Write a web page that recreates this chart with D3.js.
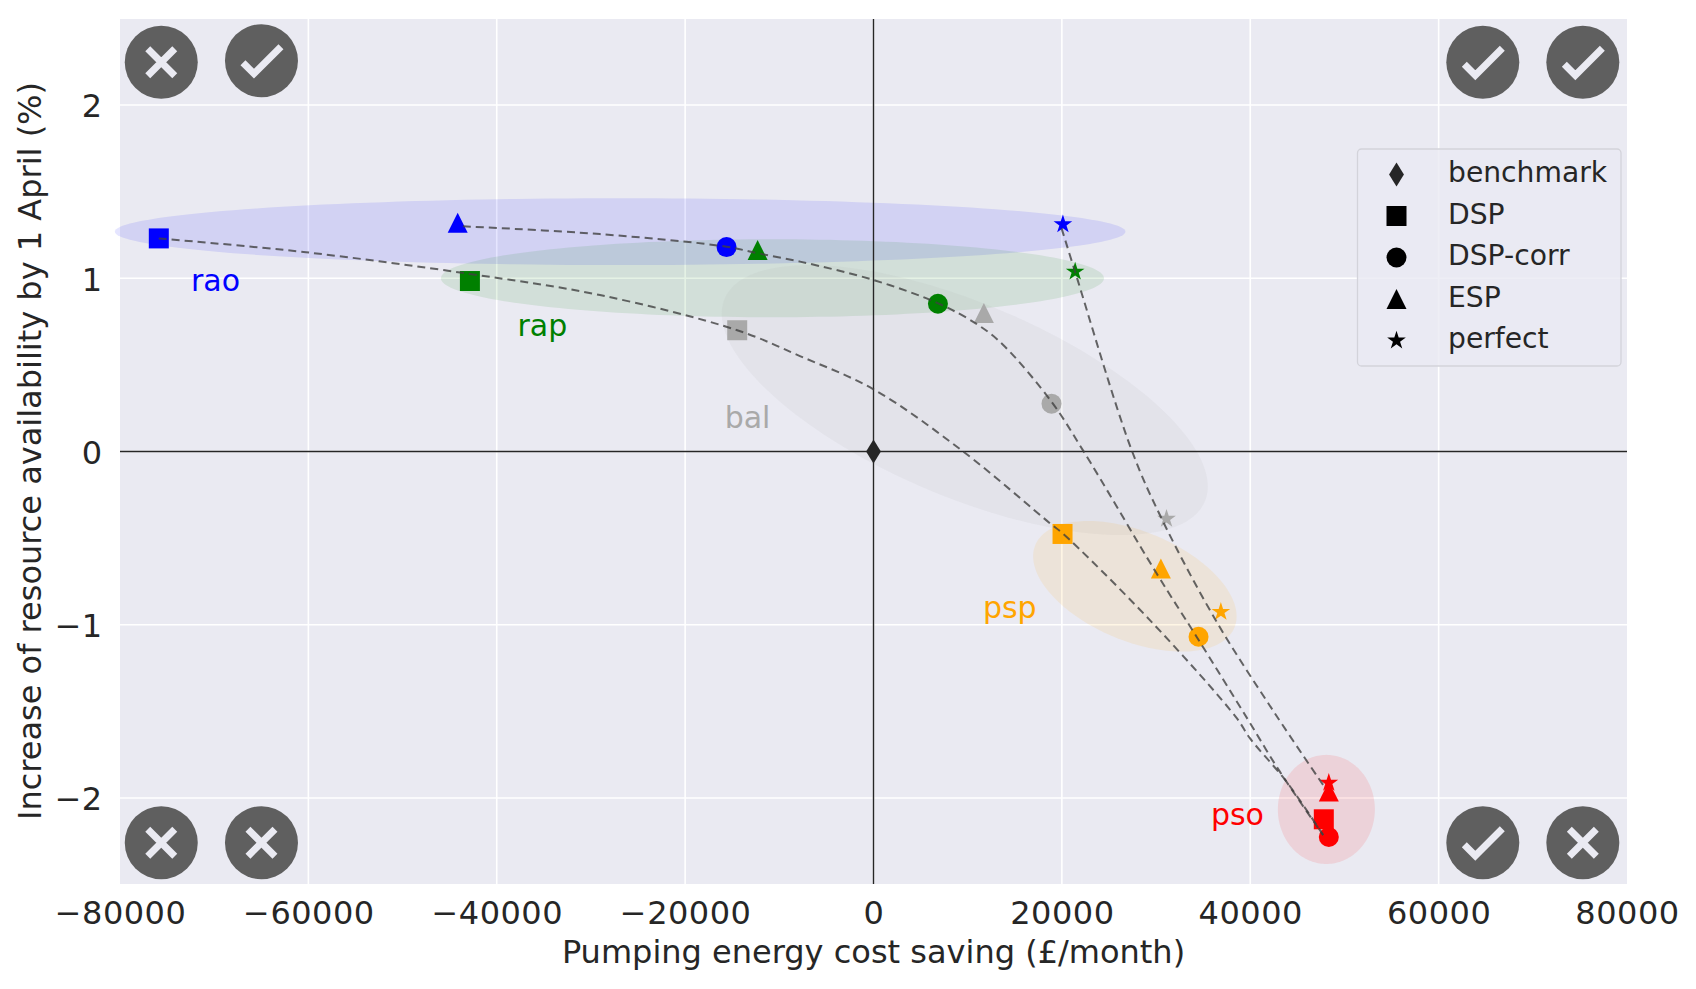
<!DOCTYPE html>
<html>
<head>
<meta charset="utf-8">
<script src="https://cdn.jsdelivr.net/npm/d3@7"></script>
<style>
  html, body { margin: 0; padding: 0; background: #fff; }
  text { font-family: 'DejaVu Sans', sans-serif; fill: #262626; }
</style>
</head>
<body>
<svg id="chart" width="1696" height="989"></svg>
<script>
const regimes = ['rao', 'rap', 'bal', 'psp', 'pso'];
const regimeColors = ['blue', 'green', 'darkgrey', 'orange', 'red'];
const regimeLabelX = [-72460, -37800, -15800, 11620, 35820];
const regimeLabelY = [0.928, 0.665, 0.134, -0.961, -2.156];

const methods = ['benchmark', 'DSP', 'DSP-corr', 'ESP', 'perfect'];

const benchmarkX = [0];
const benchmarkY = [0];
const dspX = [-75880, -42850, -14470, 20070, 47810];
const dspY = [1.23, 0.984, 0.7, -0.476, -2.123];
const corrX = [-15600, 6840, 18900, 34510, 48340];
const corrY = [1.18, 0.853, 0.276, -1.069, -2.225];
const espX = [-44150, -12300, 11720, 30510, 48340];
const espY = [1.32, 1.163, 0.8, -0.676, -1.963];
const perfectX = [20110, 21410, 31110, 36880, 48340];
const perfectY = [1.311, 1.038, -0.388, -0.926, -1.912];

// dashed fronts
const frontLow = [
  [-75880, 1.23], [-60250, 1.15], [-42860, 1.025], [-29040, 0.903], [-14470, 0.7],
  [-7810, 0.551], [0, 0.359], [9520, 0], [18730, -0.414], [20070, -0.472],
  [29340, -0.973], [38550, -1.538], [39960, -1.655], [43850, -1.906], [47740, -2.214],
];
const frontMid = [
  [-43590, 1.3], [-29040, 1.255], [-15600, 1.182], [-12300, 1.144], [-7800, 1.096],
  [0, 0.99], [6870, 0.855], [11120, 0.73], [13770, 0.615], [18900, 0.287],
  [22260, 0.005], [30050, -0.703], [34300, -1.069], [39780, -1.55], [43140, -1.848],
  [47740, -2.214],
];
const frontHigh = [
  [19970, 1.288], [21450, 1.029], [27400, 0.009], [30750, -0.405],
  [36420, -0.982], [42610, -1.511], [47740, -1.925],
];

// spread of each regime: centre, half extents, correlation
const spreadCx = [-26900, -10730, 9690, 27750, 48080];
const spreadCy = [1.269, 1.0, 0.297, -0.778, -2.066];
const spreadEx = [53650, 35200, 25800, 10800, 5150];
const spreadEy = [0.193, 0.225, 0.779, 0.377, 0.315];
const spreadRho = [0, 0, -0.64, -0.46, 0];

const xTicks = [-80000, -60000, -40000, -20000, 0, 20000, 40000, 60000, 80000];
const yTicks = [-2, -1, 0, 1, 2];

const badgeX = [-75620, -64980, 64690, 75310, -75620, -64980, 64690, 75310];
const badgeY = [2.2465, 2.256, 2.2465, 2.2465, -2.258, -2.258, -2.258, -2.258];
const badgeOk = [false, true, true, true, false, false, true, false];

const width = 1696;
const height = 989;
const margin = { top: 19, right: 69, bottom: 105, left: 120 };

const x = d3.scaleLinear().domain([-80000, 80000]).range([margin.left, width - margin.right]);
const y = d3.scaleLinear().domain([-2.4965, 2.4965]).range([height - margin.bottom, margin.top]);

const svg = d3.select('#chart');

svg.append('rect')
  .attr('x', margin.left)
  .attr('y', margin.top)
  .attr('width', width - margin.left - margin.right)
  .attr('height', height - margin.top - margin.bottom)
  .attr('fill', '#eaeaf2');

// grid
svg.append('g').selectAll('line').data(xTicks.slice(1, -1)).join('line')
  .attr('x1', d => x(d)).attr('x2', d => x(d))
  .attr('y1', margin.top).attr('y2', height - margin.bottom)
  .attr('stroke', '#fff').attr('stroke-width', 1.6);
svg.append('g').selectAll('line').data(yTicks).join('line')
  .attr('x1', margin.left).attr('x2', width - margin.right)
  .attr('y1', d => y(d)).attr('y2', d => y(d))
  .attr('stroke', '#fff').attr('stroke-width', 1.6);

// ellipses as parametric lines so the tilt stays in data space
const spreadLine = d3.line().x(d => x(d[0])).y(d => y(d[1])).curve(d3.curveLinearClosed);
const angles = d3.range(0, 2 * Math.PI, Math.PI / 90);
svg.append('g').selectAll('path').data(regimes).join('path')
  .attr('d', (d, i) => {
    const delta = Math.acos(spreadRho[i]);
    return spreadLine(angles.map(t => [
      spreadCx[i] + spreadEx[i] * Math.cos(t),
      spreadCy[i] + spreadEy[i] * Math.cos(t - delta),
    ]));
  })
  .attr('fill', (d, i) => regimeColors[i])
  .attr('fill-opacity', 0.1);

// zero lines
svg.append('line')
  .attr('x1', x(0)).attr('x2', x(0))
  .attr('y1', margin.top).attr('y2', height - margin.bottom)
  .attr('stroke', '#262626').attr('stroke-width', 1.4);
svg.append('line')
  .attr('x1', margin.left).attr('x2', width - margin.right)
  .attr('y1', y(0)).attr('y2', y(0))
  .attr('stroke', '#262626').attr('stroke-width', 1.4);

// marker shapes
const boxTriangle = {
  draw(ctx, size) {
    const r = Math.sqrt(size) / 2;
    ctx.moveTo(0, -r);
    ctx.lineTo(r, r);
    ctx.lineTo(-r, r);
    ctx.closePath();
  },
};
const thinDiamond = {
  draw(ctx, size) {
    const r = Math.sqrt(size) / 2;
    ctx.moveTo(0, -r);
    ctx.lineTo(r * 0.62, 0);
    ctx.lineTo(0, r);
    ctx.lineTo(-r * 0.62, 0);
    ctx.closePath();
  },
};
const symbols = {
  benchmark: d3.symbol().type(thinDiamond).size(576)(),
  DSP: d3.symbol().type(d3.symbolSquare).size(400)(),
  'DSP-corr': d3.symbol().type(d3.symbolCircle).size(314)(),
  ESP: d3.symbol().type(boxTriangle).size(400)(),
  perfect: d3.symbol().type(d3.symbolStar).size(108)(),
};

const drawMarkers = (name, xs, ys) => {
  svg.append('g').selectAll('path').data(xs).join('path')
    .attr('d', symbols[name])
    .attr('transform', (d, i) => `translate(${x(d)},${y(ys[i])})`)
    .attr('fill', (d, i) => regimeColors[i]);
};
drawMarkers('DSP', dspX, dspY);
drawMarkers('DSP-corr', corrX, corrY);
drawMarkers('ESP', espX, espY);
drawMarkers('perfect', perfectX, perfectY);

svg.append('path')
  .attr('d', symbols.benchmark)
  .attr('transform', `translate(${x(benchmarkX[0])},${y(benchmarkY[0])})`)
  .attr('fill', '#262626');

// fronts go on top of the markers
const frontLine = d3.line().x(d => x(d[0])).y(d => y(d[1])).curve(d3.curveCatmullRom);
svg.append('g').selectAll('path').data([frontLow, frontMid, frontHigh]).join('path')
  .attr('d', frontLine)
  .attr('fill', 'none')
  .attr('stroke', '#404040')
  .attr('stroke-opacity', 0.8)
  .attr('stroke-width', 2)
  .attr('stroke-dasharray', '8 5');

// regime names
svg.append('g').selectAll('text').data(regimes).join('text')
  .attr('x', (d, i) => x(regimeLabelX[i]))
  .attr('y', (d, i) => y(regimeLabelY[i]))
  .style('fill', (d, i) => regimeColors[i])
  .attr('font-size', 30)
  .text(d => d);

// badges
const badges = svg.append('g').selectAll('g').data(badgeX).join('g')
  .attr('transform', (d, i) => `translate(${x(d)},${y(badgeY[i])})`);
badges.append('circle').attr('r', 36.5).attr('fill', '#5f5f5f');
badges.filter((d, i) => badgeOk[i]).append('path')
  .attr('d', 'M-18.5,2L-7.5,13L19.5,-14')
  .attr('fill', 'none').attr('stroke', '#eaeaf2').attr('stroke-width', 7);
badges.filter((d, i) => !badgeOk[i]).append('path')
  .attr('d', 'M-13.5,-13.5L13.5,13.5M-13.5,13.5L13.5,-13.5')
  .attr('fill', 'none').attr('stroke', '#eaeaf2').attr('stroke-width', 7);

// axes
const xAxis = svg.append('g')
  .attr('transform', `translate(0,${height - margin.bottom})`)
  .call(d3.axisBottom(x).tickValues(xTicks).tickFormat(d3.format('d')).tickSize(0).tickPadding(17.6));
const yAxis = svg.append('g')
  .attr('transform', `translate(${margin.left},0)`)
  .call(d3.axisLeft(y).tickValues(yTicks).tickFormat(d3.format('d')).tickSize(0).tickPadding(18));
[xAxis, yAxis].forEach(axis => {
  axis.select('.domain').remove();
  axis.selectAll('text')
    .attr('font-size', 32)
    .style('font-family', "'DejaVu Sans', sans-serif")
    .style('fill', '#262626');
});
xAxis.selectAll('text').style('letter-spacing', '0.5px');
yAxis.selectAll('text').attr('dy', '0.37em');

svg.append('text')
  .attr('x', (margin.left + width - margin.right) / 2)
  .attr('y', 963)
  .attr('text-anchor', 'middle')
  .attr('font-size', 32)
  .text('Pumping energy cost saving (£/month)');
svg.append('text')
  .attr('transform', 'translate(41,451) rotate(-90)')
  .attr('text-anchor', 'middle')
  .attr('font-size', 32)
  .text('Increase of resource availability by 1 April (%)');

// legend
const legend = svg.append('g').attr('transform', 'translate(1357.5,149)');
legend.append('rect')
  .attr('width', 263.5)
  .attr('height', 217)
  .attr('rx', 4)
  .attr('fill', '#eaeaf2')
  .attr('fill-opacity', 0.8)
  .attr('stroke', '#d3d3da')
  .attr('stroke-width', 1.3);
const legendRow = d3.scaleLinear().domain([0, 4]).range([25.5, 191.5]);
const legendItems = legend.selectAll('g').data(methods).join('g')
  .attr('transform', (d, i) => `translate(0,${legendRow(i)})`);
legendItems.append('path')
  .attr('d', d => symbols[d])
  .attr('transform', 'translate(39,0)')
  .attr('fill', (d, i) => (i === 0 ? '#262626' : '#000'));
legendItems.append('text')
  .attr('x', 90.5)
  .attr('y', 7.5)
  .attr('font-size', 28.2)
  .text(d => d);
</script>
</body>
</html>
